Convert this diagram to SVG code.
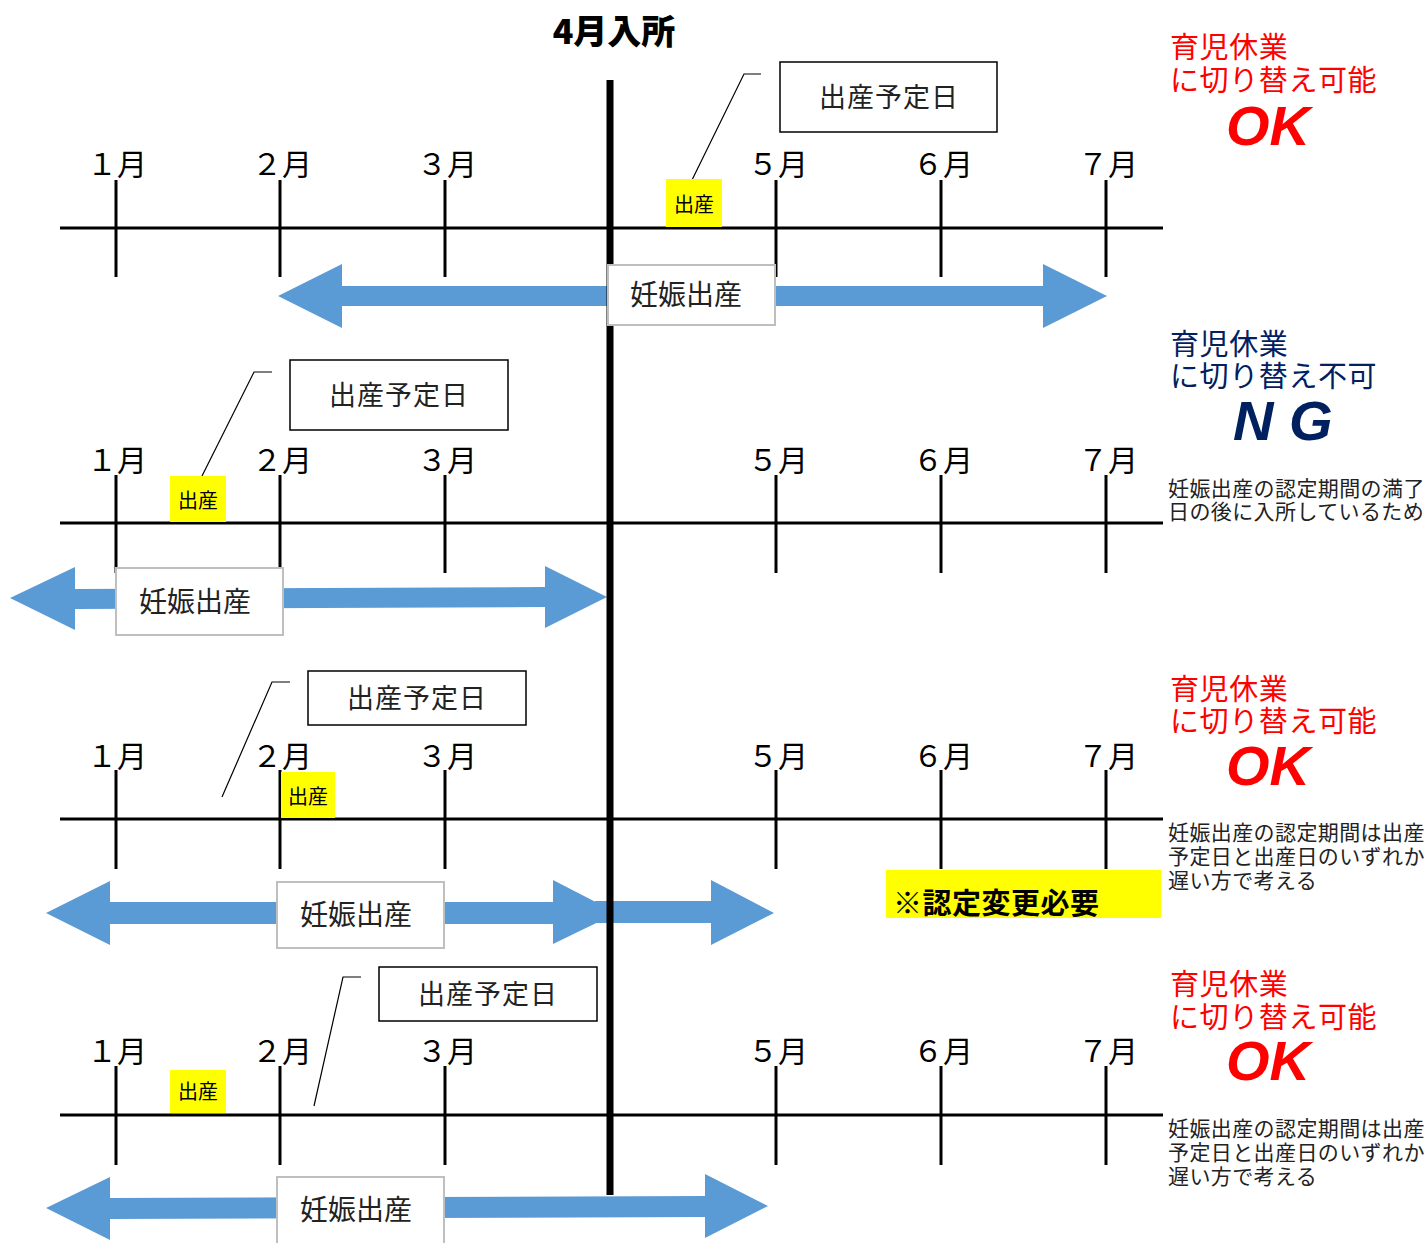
<svg xmlns="http://www.w3.org/2000/svg" width="1427" height="1243" viewBox="0 0 1427 1243">
<style>
.jp{font-family:"Noto Sans CJK JP","Noto Sans",sans-serif}
.mon{font-family:"Noto Sans CJK JP","Noto Sans",sans-serif;font-size:30px;text-anchor:middle;fill:#000}
.axis{stroke:#000;stroke-width:3}
.tick{stroke:#000;stroke-width:3}
.arrow{fill:#5b9bd5}
.pbox{fill:#fff;stroke:#bfbfbf;stroke-width:2}
.ptext{font-family:"Noto Sans CJK JP",sans-serif;font-size:28px;text-anchor:middle;fill:#222}
.dbox{fill:#fff;stroke:#000;stroke-width:1.5}
.dtext{font-family:"Noto Sans CJK JP",sans-serif;font-size:27px;letter-spacing:1px;text-anchor:middle;fill:#222}
.ylab{fill:#ffff00}
.ytext{font-family:"Noto Sans CJK JP",sans-serif;font-size:20px;text-anchor:middle;fill:#000}
.call{fill:none;stroke:#000;stroke-width:1.2}
.red{font-family:"Noto Sans CJK JP",sans-serif;font-size:29px;letter-spacing:0.6px;fill:#ff0000}
.navy{font-family:"Noto Sans CJK JP",sans-serif;font-size:29px;letter-spacing:0.6px;fill:#002060}
.ok{font-family:"Liberation Sans",Arial,sans-serif;font-size:56px;font-weight:bold;font-style:italic;fill:#ff0000}
.ng{font-family:"Liberation Sans",Arial,sans-serif;font-size:56px;font-weight:bold;font-style:italic;fill:#002060}
.note{font-family:"Noto Sans CJK JP",sans-serif;font-size:21px;letter-spacing:0.4px;fill:#222}
</style>

<g id="connectors">
  <polygon class="arrow" points="278,296 342,264 342,286 1043,286 1043,264 1107,296 1043,328 1043,306 342,306 342,328"/>
  <polygon class="arrow" points="10,598 75,567 75,589 545,587 545,566 607,597 545,628 545,607 75,609 75,630"/>
  <polygon class="arrow" points="46,913 110,881 110,902 553,902 553,880 617,913 553,944 553,924 110,924 110,945"/>
  <polygon class="arrow" points="595,901 711,901 711,880 774,913 711,945 711,923 595,923"/>
  <polygon class="arrow" points="46,1208 110,1177 110,1198 705,1196 705,1174 768,1206 705,1238 705,1217 110,1219 110,1240"/>
  <polyline class="call" points="761,74 744,74 692,180"/>
  <polyline class="call" points="272,372 254,372 202,476"/>
  <polyline class="call" points="290,682 272,682 222,797"/>
  <polyline class="call" points="361,977 343,977 314,1106"/>
</g>

<g id="timeline1">
  <line class="axis" x1="60" y1="228" x2="1163" y2="228"/>
  <line class="tick" x1="116" y1="180" x2="116" y2="277"/>
  <line class="tick" x1="280" y1="180" x2="280" y2="277"/>
  <line class="tick" x1="445" y1="180" x2="445" y2="277"/>
  <line class="tick" x1="776" y1="180" x2="776" y2="277"/>
  <line class="tick" x1="941" y1="180" x2="941" y2="277"/>
  <line class="tick" x1="1106" y1="180" x2="1106" y2="277"/>
  <text class="mon" x="117" y="175">１月</text>
  <text class="mon" x="282" y="175">２月</text>
  <text class="mon" x="447" y="175">３月</text>
  <text class="mon" x="778" y="175">５月</text>
  <text class="mon" x="943" y="175">６月</text>
  <text class="mon" x="1108" y="175">７月</text>
</g>
<g id="timeline2">
  <line class="axis" x1="60" y1="523" x2="1163" y2="523"/>
  <line class="tick" x1="116" y1="475" x2="116" y2="573"/>
  <line class="tick" x1="280" y1="475" x2="280" y2="573"/>
  <line class="tick" x1="445" y1="475" x2="445" y2="573"/>
  <line class="tick" x1="776" y1="475" x2="776" y2="573"/>
  <line class="tick" x1="941" y1="475" x2="941" y2="573"/>
  <line class="tick" x1="1106" y1="475" x2="1106" y2="573"/>
  <text class="mon" x="117" y="471">１月</text>
  <text class="mon" x="282" y="471">２月</text>
  <text class="mon" x="447" y="471">３月</text>
  <text class="mon" x="778" y="471">５月</text>
  <text class="mon" x="943" y="471">６月</text>
  <text class="mon" x="1108" y="471">７月</text>
</g>
<g id="timeline3">
  <line class="axis" x1="60" y1="819" x2="1163" y2="819"/>
  <line class="tick" x1="116" y1="770" x2="116" y2="869"/>
  <line class="tick" x1="280" y1="770" x2="280" y2="869"/>
  <line class="tick" x1="445" y1="770" x2="445" y2="869"/>
  <line class="tick" x1="776" y1="770" x2="776" y2="869"/>
  <line class="tick" x1="941" y1="770" x2="941" y2="869"/>
  <line class="tick" x1="1106" y1="770" x2="1106" y2="869"/>
  <text class="mon" x="117" y="767">１月</text>
  <text class="mon" x="282" y="767">２月</text>
  <text class="mon" x="447" y="767">３月</text>
  <text class="mon" x="778" y="767">５月</text>
  <text class="mon" x="943" y="767">６月</text>
  <text class="mon" x="1108" y="767">７月</text>
</g>
<g id="timeline4">
  <line class="axis" x1="60" y1="1115" x2="1163" y2="1115"/>
  <line class="tick" x1="116" y1="1066" x2="116" y2="1165"/>
  <line class="tick" x1="280" y1="1066" x2="280" y2="1165"/>
  <line class="tick" x1="445" y1="1066" x2="445" y2="1165"/>
  <line class="tick" x1="776" y1="1066" x2="776" y2="1165"/>
  <line class="tick" x1="941" y1="1066" x2="941" y2="1165"/>
  <line class="tick" x1="1106" y1="1066" x2="1106" y2="1165"/>
  <text class="mon" x="117" y="1062">１月</text>
  <text class="mon" x="282" y="1062">２月</text>
  <text class="mon" x="447" y="1062">３月</text>
  <text class="mon" x="778" y="1062">５月</text>
  <text class="mon" x="943" y="1062">６月</text>
  <text class="mon" x="1108" y="1062">７月</text>
</g>

<g id="entry-line">
  <line x1="610" y1="80" x2="610" y2="1195" stroke="#000" stroke-width="7"/>
  <text class="jp" x="614" y="44" font-size="34" font-weight="900" text-anchor="middle" fill="#000">4月入所</text>
</g>

<g id="period1"><rect class="pbox" x="608" y="265" width="167" height="60"/><text class="ptext" x="686" y="305">妊娠出産</text></g>
<g id="period2"><rect class="pbox" x="116" y="568" width="167" height="67"/><text class="ptext" x="195" y="612">妊娠出産</text></g>
<g id="period3"><rect class="pbox" x="277" y="882" width="167" height="66"/><text class="ptext" x="356" y="925">妊娠出産</text></g>
<g id="period4"><rect class="pbox" x="277" y="1177" width="167" height="70"/><text class="ptext" x="356" y="1220">妊娠出産</text></g>

<g id="due1"><rect class="dbox" x="780" y="62" width="217" height="70"/><text class="dtext" x="889" y="107">出産予定日</text></g>
<g id="due2"><rect class="dbox" x="290" y="360" width="218" height="70"/><text class="dtext" x="399" y="405">出産予定日</text></g>
<g id="due3"><rect class="dbox" x="308" y="671" width="218" height="54"/><text class="dtext" x="417" y="708">出産予定日</text></g>
<g id="due4"><rect class="dbox" x="379" y="967" width="218" height="54"/><text class="dtext" x="488" y="1004">出産予定日</text></g>

<g id="birth1"><rect class="ylab" x="666" y="179" width="56" height="48"/><text class="ytext" x="694" y="212">出産</text></g>
<g id="birth2"><rect class="ylab" x="170" y="476" width="56" height="46"/><text class="ytext" x="198" y="508">出産</text></g>
<g id="birth3"><rect class="ylab" x="281" y="772" width="54" height="46"/><text class="ytext" x="308" y="804">出産</text></g>
<g id="birth4"><rect class="ylab" x="170" y="1070" width="56" height="43"/><text class="ytext" x="198" y="1099">出産</text></g>

<g id="change-note">
  <rect fill="#ffff00" x="886" y="870" width="275" height="48"/>
  <text class="jp" x="893" y="914" font-size="29" font-weight="bold" letter-spacing="0.5" fill="#000">※認定変更必要</text>
</g>

<g id="result1">
  <text class="red" x="1170" y="58">育児休業</text>
  <text class="red" x="1170" y="91">に切り替え可能</text>
  <text class="ok" x="1226" y="145">OK</text>
</g>
<g id="result2">
  <text class="navy" x="1170" y="355">育児休業</text>
  <text class="navy" x="1170" y="387">に切り替え不可</text>
  <text class="ng" x="1233" y="440" xml:space="preserve">N G</text>
  <text class="note" x="1168" y="496">妊娠出産の認定期間の満了</text>
  <text class="note" x="1168" y="519">日の後に入所しているため</text>
</g>
<g id="result3">
  <text class="red" x="1170" y="700">育児休業</text>
  <text class="red" x="1170" y="732">に切り替え可能</text>
  <text class="ok" x="1226" y="785">OK</text>
  <text class="note" x="1168" y="840">妊娠出産の認定期間は出産</text>
  <text class="note" x="1168" y="864">予定日と出産日のいずれか</text>
  <text class="note" x="1168" y="888">遅い方で考える</text>
</g>
<g id="result4">
  <text class="red" x="1170" y="995">育児休業</text>
  <text class="red" x="1170" y="1028">に切り替え可能</text>
  <text class="ok" x="1226" y="1080">OK</text>
  <text class="note" x="1168" y="1136">妊娠出産の認定期間は出産</text>
  <text class="note" x="1168" y="1160">予定日と出産日のいずれか</text>
  <text class="note" x="1168" y="1184">遅い方で考える</text>
</g>
</svg>
